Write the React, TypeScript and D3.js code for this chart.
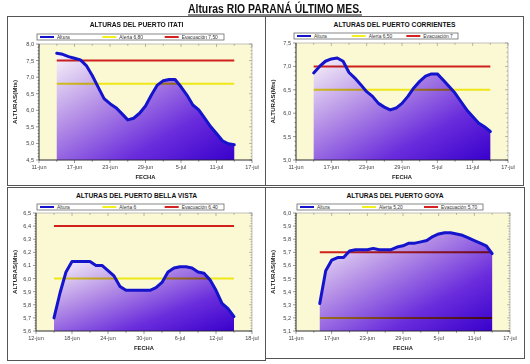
import React from "react";
import * as d3 from "d3";

const parseDay = d3.timeParse("%d-%b");

// Puerto Itatí
const itatiStart = "14-jun";
const itatiValues = [7.72, 7.69, 7.62, 7.57, 7.52, 7.35, 7.05, 6.7, 6.35, 6.2, 6.08, 5.9, 5.71, 5.76, 5.91, 6.13, 6.46,
	6.76, 6.89, 6.93, 6.93, 6.71, 6.46, 6.16, 6.01, 5.76, 5.51, 5.3, 5.08, 4.99, 4.96];
const itatiYTicks = [4.5, 5.0, 5.5, 6.0, 6.5, 7.0, 7.5, 8.0];
const itatiXTicks = ["11-jun", "17-jun", "23-jun", "29-jun", "5-jul", "11-jul", "17-jul"];

// Puerto Corrientes
const corrStart = "14-jun";
const corrValues = [6.86, 7.0, 7.11, 7.16, 7.18, 7.11, 6.87, 6.75, 6.61, 6.46, 6.36, 6.21, 6.13, 6.07, 6.11, 6.21, 6.36,
	6.54, 6.68, 6.79, 6.84, 6.84, 6.71, 6.57, 6.43, 6.25, 6.07, 5.93, 5.79, 5.71, 5.61];
const corrYTicks = [5.0, 5.5, 6.0, 6.5, 7.0, 7.5];
const corrXTicks = ["11-jun", "17-jun", "23-jun", "29-jun", "5-jul", "11-jul", "17-jul"];

// Puerto Bella Vista
const bvStart = "15-jun";
const bvValues = [5.7, 5.89, 6.05, 6.13, 6.13, 6.13, 6.13, 6.1, 6.1, 6.06, 6.02, 5.94, 5.91, 5.91, 5.91, 5.91,
	5.91, 5.93, 5.97, 6.05, 6.08, 6.09, 6.09, 6.08, 6.05, 6.04, 5.99, 5.91, 5.81, 5.77, 5.71];
const bvYTicks = [5.6, 5.7, 5.8, 5.9, 6.0, 6.1, 6.2, 6.3, 6.4, 6.5];
const bvXTicks = ["12-jun", "18-jun", "24-jun", "30-jun", "6-jul", "12-jul", "18-jul"];

// Puerto Goya
const goyaStart = "15-jun";
const goyaValues = [5.31, 5.56, 5.64, 5.66, 5.66, 5.71, 5.72, 5.72, 5.72, 5.73, 5.72, 5.72, 5.72, 5.74, 5.75, 5.77,
	5.77, 5.78, 5.79, 5.82, 5.84, 5.85, 5.85, 5.84, 5.83, 5.81, 5.79, 5.77, 5.75, 5.69];
const goyaYTicks = [5.1, 5.2, 5.3, 5.4, 5.5, 5.6, 5.7, 5.8, 5.9, 6.0];
const goyaXTicks = ["11-jun", "17-jun", "23-jun", "29-jun", "5-jul", "11-jul", "17-jul"];

const FONT = "'Liberation Sans', Arial, sans-serif";
const fmt = (v: number) => d3.format(".1f")(v).replace(".", ",");

const Panel = ({ id, title, start, values, yTicks, xTicks, alert, evac, alertLabel, evacLabel, frame, plot, legend }) => {
	const t0 = parseDay(start);
	const points = values.map((v, i) => [d3.timeDay.offset(t0, i), v]);
	const xDom = [parseDay(xTicks[0]), parseDay(xTicks[xTicks.length - 1])];

	const x = d3.scaleTime().domain(xDom).range([plot.x0, plot.x1]);
	const y = d3.scaleLinear().domain(d3.extent(yTicks)).range([plot.y1, plot.y0]);

	const line = d3.line().x((d) => x(d[0])).y((d) => y(d[1]));
	const area = d3.area().x((d) => x(d[0])).y0(plot.y1).y1((d) => y(d[1]));

	const step = yTicks[1] - yTicks[0];
	const minorY = d3.range(0, (yTicks.length - 1) * 5 + 1).map((i) => yTicks[0] + (i * step) / 5);
	const minorX = d3.timeDay.range(xDom[0], d3.timeDay.offset(xDom[1], 1), 3);

	const xa = x(points[0][0]);
	const xb = x(points[points.length - 1][0]);
	const seg = legend.w / 3;
	const items = [
		{ label: "Altura", color: "#1414cc" },
		{ label: alertLabel, color: "#f2ef1e" },
		{ label: evacLabel, color: "#d42222" },
	];

	return (
		<g fontFamily={FONT}>
			<defs>
				<linearGradient id={`fill-${id}`} x1="0" y1="0" x2="1" y2="1">
					<stop offset="0" stopColor="#faf6fa" />
					<stop offset="0.35" stopColor="#b590e6" />
					<stop offset="0.7" stopColor="#6a2cdc" />
					<stop offset="1" stopColor="#3800cc" />
				</linearGradient>
			</defs>
			<rect x={frame.x} y={frame.y} width={frame.w} height={frame.h} fill="#fff" stroke="#555" strokeWidth={1} />
			<text x={frame.x + frame.w / 2} y={frame.y + 10} textAnchor="middle" fontSize={6.7} fontWeight="bold" fill="#111">
				{title}
			</text>

			{/* legend */}
			<rect x={legend.x} y={legend.y} width={legend.w} height={6} fill="#fff" stroke="#555" strokeWidth={0.7} />
			{items.map((it, i) => (
				<g key={it.label}>
					<line x1={legend.x + i * seg + 3} x2={legend.x + i * seg + 17} y1={legend.y + 3} y2={legend.y + 3} stroke={it.color} strokeWidth={2} />
					<text x={legend.x + i * seg + 20} y={legend.y + 5} fontSize={4.9} fill="#333">
						{it.label}
					</text>
				</g>
			))}

			{/* plot area */}
			<rect x={plot.x0} y={plot.y0} width={plot.x1 - plot.x0} height={plot.y1 - plot.y0} fill="#fbf8d4" stroke="#999" strokeWidth={0.6} />
			<path d={area(points)} fill={`url(#fill-${id})`} />
			<g style={{ mixBlendMode: "multiply" }}>
				<line x1={xa} x2={xb} y1={y(alert)} y2={y(alert)} stroke="#f2ef1e" strokeWidth={2} />
				<line x1={xa} x2={xb} y1={y(evac)} y2={y(evac)} stroke="#d42222" strokeWidth={2} />
			</g>
			<path d={line(points)} fill="none" stroke="#1414cc" strokeWidth={3} strokeLinejoin="round" strokeLinecap="round" />

			{/* ticks */}
			{minorY.map((v, i) => {
				const major = i % 5 === 0;
				const l = major ? 3 : 1.5;
				return (
					<g key={`my${i}`} stroke="#333" strokeWidth={0.5}>
						<line x1={plot.x0 - l} x2={plot.x0} y1={y(v)} y2={y(v)} />
						<line x1={plot.x1} x2={plot.x1 - l} y1={y(v)} y2={y(v)} stroke="#777" />
					</g>
				);
			})}
			{minorX.map((d, i) => {
				const l = i % 2 === 0 ? 3 : 1.8;
				return (
					<g key={`mx${i}`} stroke="#333" strokeWidth={0.5}>
						<line x1={x(d)} x2={x(d)} y1={plot.y1} y2={plot.y1 + l} />
						<line x1={x(d)} x2={x(d)} y1={plot.y0} y2={plot.y0 + l} stroke="#777" />
					</g>
				);
			})}
			<line x1={plot.x0} x2={plot.x0} y1={plot.y0} y2={plot.y1} stroke="#222" strokeWidth={0.8} />
			<line x1={plot.x0} x2={plot.x1} y1={plot.y1} y2={plot.y1} stroke="#222" strokeWidth={0.8} />

			{yTicks.map((v) => (
				<text key={`yt${v}`} x={plot.x0 - 5} y={y(v) + 2} textAnchor="end" fontSize={5.6} fill="#444">
					{fmt(v)}
				</text>
			))}
			{xTicks.map((s) => (
				<text key={`xt${s}`} x={x(parseDay(s))} y={plot.y1 + 9} textAnchor="middle" fontSize={5.6} fill="#444">
					{s}
				</text>
			))}
			<text x={(plot.x0 + plot.x1) / 2} y={plot.y1 + 19} textAnchor="middle" fontSize={5.8} fontWeight="bold" fill="#222">
				FECHA
			</text>
			<text
				transform={`translate(${frame.x + 9.5},${(plot.y0 + plot.y1) / 2}) rotate(-90)`}
				textAnchor="middle"
				fontSize={6.2}
				fontWeight="bold"
				fill="#222"
			>
				ALTURAS(Mts)
			</text>
		</g>
	);
};

const App = () => {
	return (
		<svg width={530} height={364} style={{ position: "absolute", left: 0, top: 0, background: "#fff" }}>
			<text x={275} y={13} textAnchor="middle" fontFamily={FONT} fontSize={12.5} fontWeight="bold" fill="#111" textLength={174} lengthAdjust="spacingAndGlyphs">
				Alturas RIO PARANÁ ÚLTIMO MES.
			</text>
			<line x1={188} x2={362} y1={15} y2={15} stroke="#111" strokeWidth={1} />

			<Panel
				id="itati"
				title="ALTURAS DEL PUERTO ITATI"
				start={itatiStart}
				values={itatiValues}
				yTicks={itatiYTicks}
				xTicks={itatiXTicks}
				alert={6.8}
				evac={7.5}
				alertLabel="Alerta 6,80"
				evacLabel="Evacuación 7,50"
				frame={{ x: 7.5, y: 16.5, w: 258, h: 169 }}
				plot={{ x0: 39, x1: 252, y0: 44, y1: 160 }}
				legend={{ x: 37, y: 34, w: 187 }}
			/>
			<Panel
				id="corr"
				title="ALTURAS DEL PUERTO CORRIENTES"
				start={corrStart}
				values={corrValues}
				yTicks={corrYTicks}
				xTicks={corrXTicks}
				alert={6.5}
				evac={7.0}
				alertLabel="Alerta 6,50"
				evacLabel="Evacuación 7"
				frame={{ x: 265.5, y: 16.5, w: 258, h: 169 }}
				plot={{ x0: 296, x1: 508, y0: 43, y1: 160 }}
				legend={{ x: 294, y: 33, w: 164 }}
			/>
			<Panel
				id="bv"
				title="ALTURAS DEL PUERTO BELLA VISTA"
				start={bvStart}
				values={bvValues}
				yTicks={bvYTicks}
				xTicks={bvXTicks}
				alert={6.0}
				evac={6.4}
				alertLabel="Alerta 6"
				evacLabel="Evacuación 6,40"
				frame={{ x: 7.5, y: 187.5, w: 258, h: 173 }}
				plot={{ x0: 36, x1: 252, y0: 213, y1: 331 }}
				legend={{ x: 37, y: 204, w: 187 }}
			/>
			<Panel
				id="goya"
				title="ALTURAS DEL PUERTO GOYA"
				start={goyaStart}
				values={goyaValues}
				yTicks={goyaYTicks}
				xTicks={goyaXTicks}
				alert={5.2}
				evac={5.7}
				alertLabel="Alerta 5,20"
				evacLabel="Evacuación 5,70"
				frame={{ x: 265.5, y: 187.5, w: 259, h: 171 }}
				plot={{ x0: 296, x1: 510, y0: 213, y1: 331 }}
				legend={{ x: 297, y: 204, w: 186 }}
			/>
		</svg>
	);
};

export default App;
